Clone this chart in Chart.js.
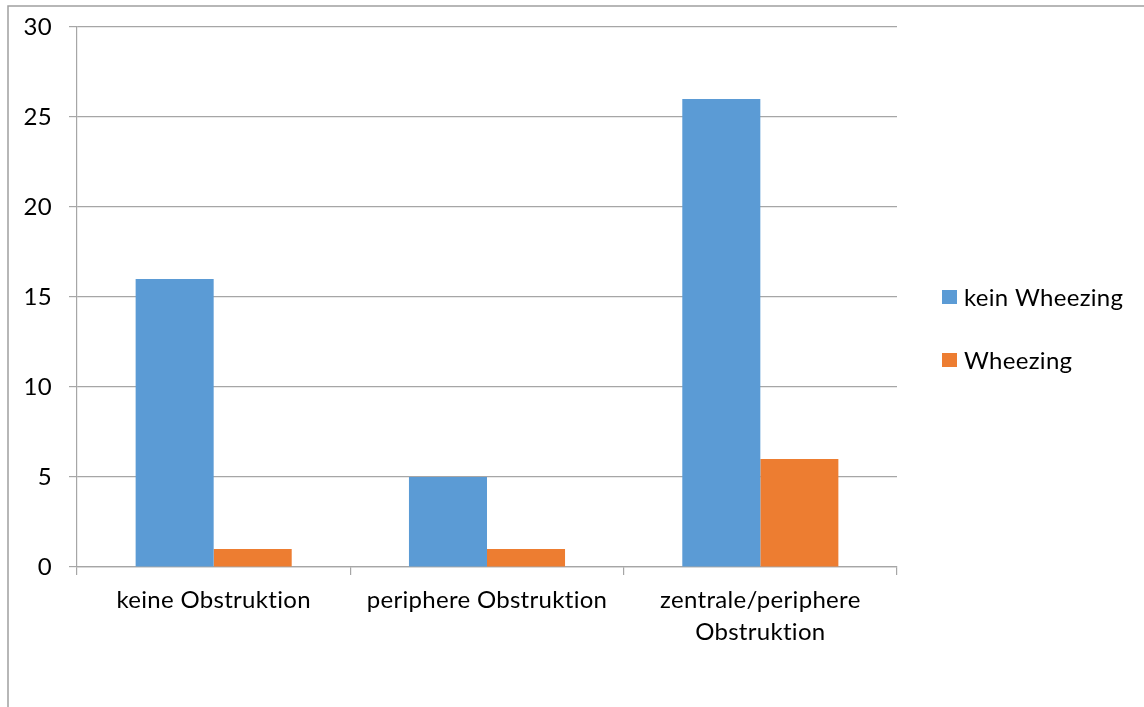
<!DOCTYPE html>
<html>
<head>
<meta charset="utf-8">
<script src="https://cdn.jsdelivr.net/npm/chart.js@4"></script>
<style>
html,body{margin:0;padding:0;background:#fff;}
#wrap{position:relative;width:1144px;height:707px;}
</style>
</head>
<body>
<div id="wrap"><canvas id="c" width="1144" height="707"></canvas></div>
<script>
const categories = ['keine Obstruktion', 'periphere Obstruktion', ['zentrale/periphere', 'Obstruktion']];
const seriesNames = ['kein Wheezing', 'Wheezing'];
const keinWheezing = [16, 5, 26];
const wheezing = [1, 1, 6];
const yTicks = [0, 5, 10, 15, 20, 25, 30];
const seriesColors = ['#5B9BD5', '#ED7D31'];

const FONT = 'Lato, "Open Sans", sans-serif';
const GRID = '#A6A6A6';

const frame = {
  id: 'frame',
  beforeDraw(chart) {
    const ctx = chart.ctx;
    try { ctx.letterSpacing = '0.3px'; } catch (e) {}
    ctx.save();
    ctx.fillStyle = '#fff';
    ctx.fillRect(0, 0, chart.width, chart.height);
    ctx.strokeStyle = '#A0A0A0';
    ctx.lineWidth = 1.5;
    ctx.beginPath();
    ctx.moveTo(8, chart.height + 2);
    ctx.lineTo(8, 6);
    ctx.lineTo(chart.width + 2, 6);
    ctx.stroke();
    ctx.restore();
  }
};

const sideLegend = {
  id: 'sideLegend',
  afterDraw(chart) {
    const ctx = chart.ctx;
    ctx.save();
    ctx.font = '24px ' + FONT;
    ctx.textBaseline = 'middle';
    ctx.textAlign = 'left';
    const ys = [297, 360];
    chart.data.datasets.forEach((ds, i) => {
      const y = ys[i];
      ctx.fillStyle = ds.backgroundColor;
      ctx.fillRect(942, y - 7, 15, 14);
      ctx.fillStyle = '#000';
      ctx.fillText(ds.label, 964, y + 1);
    });
    ctx.restore();
  }
};

new Chart(document.getElementById('c'), {
  type: 'bar',
  data: {
    labels: categories,
    datasets: [
      { label: seriesNames[0], data: keinWheezing, backgroundColor: seriesColors[0] },
      { label: seriesNames[1], data: wheezing, backgroundColor: seriesColors[1] }
    ]
  },
  options: {
    responsive: false,
    animation: false,
    devicePixelRatio: 1,
    layout: { padding: { top: 27, right: 247, left: 0, bottom: 0 } },
    datasets: { bar: { barPercentage: 1, categoryPercentage: 0.571 } },
    plugins: { legend: { display: false }, tooltip: { enabled: false } },
    scales: {
      x: {
        afterFit(s) { s.height = 140; s.paddingLeft = 0; s.paddingRight = 0; },
        grid: { offset: true, drawOnChartArea: false, color: GRID, tickLength: 8, lineWidth: 1.2 },
        border: { color: GRID, width: 1.2 },
        ticks: { color: '#000', font: { family: FONT, size: 24, lineHeight: 1.3 }, padding: 10, maxRotation: 0, autoSkip: false }
      },
      y: {
        min: 0, max: 30,
        afterFit(s) { s.width = 77; s.paddingTop = 0; s.paddingBottom = 0; },
        afterBuildTicks(s) { s.ticks = yTicks.map(v => ({ value: v })); },
        grid: { color: GRID, tickLength: 8, lineWidth: 1.2 },
        border: { color: GRID, width: 1.2 },
        ticks: { color: '#000', font: { family: FONT, size: 24 }, padding: 17 }
      }
    }
  },
  plugins: [frame, sideLegend]
});
</script>
</body>
</html>
